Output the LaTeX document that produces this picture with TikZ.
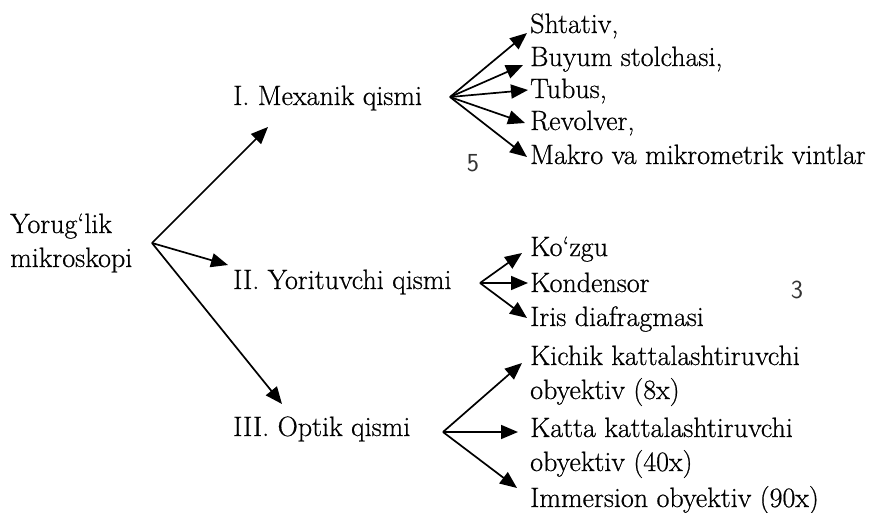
\documentclass[tikz,border=0pt]{standalone}
\usepackage{fontspec}
\setmainfont{Latin Modern Roman}[FakeBold=0.6]
\usetikzlibrary{arrows.meta}
\begin{document}
\begin{tikzpicture}[x=1pt,y=-1pt,
  txt/.style={anchor=base west,inner sep=0pt,font=\fontsize{28}{34}\selectfont,align=left},
  arr/.style={line width=1.7pt,-{Triangle[length=17pt,width=14pt]}},
  hand/.style={inner sep=0pt,font=\sffamily\fontsize{26}{26}\selectfont,text=black!80}]
\useasboundingbox (0,0) rectangle (876,512);
% root
\node[txt] (root) at (10,267) {Yorug‘lik\\mikroskopi};
\coordinate (apR) at (152,243);
% level 1
\node[txt] (mex) at (233,105) {I. Mexanik qismi};
\node[txt] (yor) at (233,289) {II. Yorituvchi qismi};
\node[txt] (opt) at (233,436) {III. Optik qismi};
\coordinate (apM) at (450,97);
\coordinate (apY) at (480,283);
\coordinate (apO) at (443,432);
% mexanik items
\node[txt] (sht) at (530,33) {Shtativ,};
\node[txt] (buy) at (530,66) {Buyum stolchasi,};
\node[txt] (tub) at (530,98) {Tubus,};
\node[txt] (rev) at (530,130) {Revolver,};
\node[txt] (mak) at (530,164) {Makro va mikrometrik vintlar};
% yorituvchi items
\node[txt] (koz) at (530,256) {Ko‘zgu};
\node[txt] (kon) at (530,292) {Kondensor};
\node[txt] (iri) at (530,326) {Iris diafragmasi};
% optik items
\node[txt] (kic) at (530,399) {Kichik kattalashtiruvchi\\obyektiv (8x)};
\node[txt] (kat) at (530,471) {Katta kattalashtiruvchi\\obyektiv (40x)};
\node[txt] (imm) at (530,507) {Immersion obyektiv (90x)};
% handwritten marks
\node[hand] (h5) at (473,163) {5};
\node[hand] (h3) at (797,290) {3};
% connectors root
\draw[arr] (apR) -- ([shift={(35,22)}]mex.base west);
\draw[arr] (apR) -- ([shift={(-5,-24)}]yor.base west);
\draw[arr] (apR) -- ([shift={(49,-32)}]opt.base west);
% mexanik
\draw[arr] (apM) -- ([shift={(-3,0)}]sht.base west);
\draw[arr] (apM) -- ([shift={(-7,-1)}]buy.base west);
\draw[arr] (apM) -- ([shift={(-2,-8)}]tub.base west);
\draw[arr] (apM) -- ([shift={(-5,-7)}]rev.base west);
\draw[arr] (apM) -- ([shift={(-3,-7)}]mak.base west);
% yorituvchi
\draw[arr] (apY) -- ([shift={(-8,-3)}]koz.base west);
\draw[arr] (apY) -- ([shift={(-2,-9)}]kon.base west);
\draw[arr] (apY) -- ([shift={(-3,-8)}]iri.base west);
% optik
\draw[arr] (apO) -- ([shift={(-8,-36)}]kic.base west);
\draw[arr] (apO) -- ([shift={(-12,-39)}]kat.base west);
\draw[arr] (apO) -- ([shift={(-13,-19)}]imm.base west);
\end{tikzpicture}
\end{document}
